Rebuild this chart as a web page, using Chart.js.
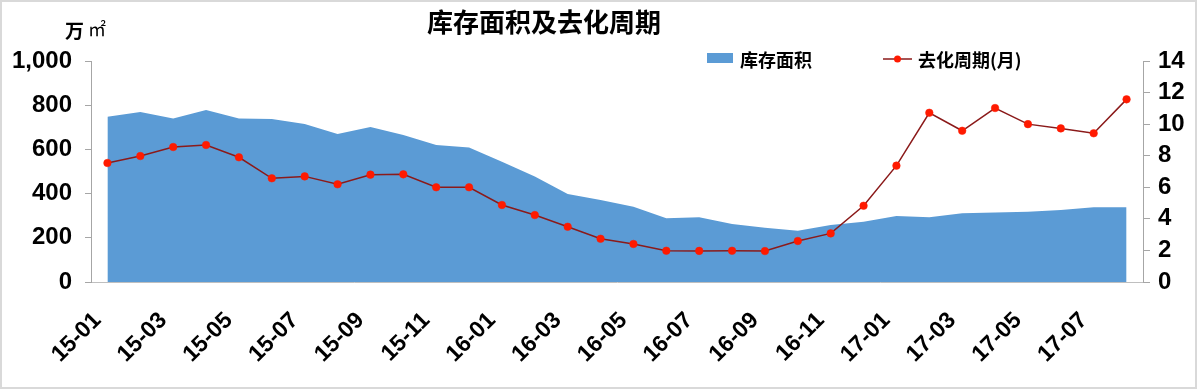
<!DOCTYPE html>
<html>
<head>
<meta charset="utf-8">
<script src="https://cdn.jsdelivr.net/npm/chart.js@4/dist/chart.umd.min.js"></script>
<style>
html,body{margin:0;padding:0;background:#fff;}
#wrap{position:relative;width:1197px;height:389px;}
#frame{position:absolute;left:0;top:0;width:1197px;height:389px;box-sizing:border-box;border:2px solid #d9d9d9;pointer-events:none;}
</style>
</head>
<body>
<div id="wrap">
    <canvas id="stockChart" width="1197" height="389"></canvas>
    <div id="frame"></div>
</div>
<script>
const chartTitle = "库存面积及去化周期";
const unitLabel = "万";
const unitSup = "㎡";
const seriesNames = ["库存面积", "去化周期(月)"];
const months = [
    "15-01","15-02","15-03","15-04","15-05","15-06","15-07","15-08","15-09","15-10","15-11","15-12",
    "16-01","16-02","16-03","16-04","16-05","16-06","16-07","16-08","16-09","16-10","16-11","16-12",
    "17-01","17-02","17-03","17-04","17-05","17-06","17-07","17-08"
];
// 库存面积 (万㎡)
const inventory = [
    748, 769, 740, 778, 740, 737, 715, 670, 701, 665, 620, 609,
    544, 477, 398, 371, 341, 288, 293, 262, 246, 232, 258, 273,
    299, 293, 311, 315, 318, 326, 338, 338
];
// 去化周期 (月)
const cycle = [
    7.54, 7.98, 8.55, 8.68, 7.9, 6.57, 6.69, 6.19, 6.8, 6.82, 6.0, 6.0,
    4.88, 4.24, 3.5, 2.74, 2.41, 1.98, 1.97, 1.98, 1.96, 2.6, 3.08, 4.83,
    7.37, 10.72, 9.58, 11.02, 10.0, 9.73, 9.42, 11.57
];

const areaColor = "#5B9BD5";
const lineColor = "#8b1a1a";
const dotColor = "#ff1a00";
const axisColor = "#a6a6a6";
const numFont = "Liberation Sans";
const cjkFont = "Noto Sans CJK SC";

// title, unit and legend drawn on top
const overlayText = {
    id: "overlayText",
    afterDraw(chart){
        const ctx = chart.ctx;
        ctx.save();
        ctx.fillStyle = "#000";
        ctx.textBaseline = "middle";
        ctx.textAlign = "center";
        ctx.font = `bold 26px "${cjkFont}"`;
        ctx.fillText(chartTitle, 544, 22);
        ctx.textAlign = "left";
        ctx.font = `bold 19px "${cjkFont}"`;
        ctx.fillText(unitLabel, 65, 31);
        ctx.font = `18px "${cjkFont}"`;
        ctx.fillText(unitSup, 88, 29);
        // legend
        ctx.fillStyle = areaColor;
        ctx.fillRect(707, 53, 26, 10);
        ctx.fillStyle = "#000";
        ctx.font = `bold 18px "${cjkFont}"`;
        ctx.fillText(seriesNames[0], 740, 60);
        ctx.strokeStyle = lineColor;
        ctx.lineWidth = 1.5;
        ctx.beginPath();
        ctx.moveTo(883, 59);
        ctx.lineTo(912, 59);
        ctx.stroke();
        ctx.fillStyle = dotColor;
        ctx.beginPath();
        ctx.arc(897.5, 59, 3.5, 0, Math.PI * 2);
        ctx.fill();
        ctx.fillStyle = "#000";
        ctx.fillText(seriesNames[1], 918, 60);
        ctx.restore();
    }
};

const ctx = document.getElementById("stockChart");
const stockChart = new Chart(ctx, {
    type: "line",
    data: {
        labels: months,
        datasets: [
            {
                label: seriesNames[0],
                data: inventory,
                yAxisID: "y",
                fill: "origin",
                backgroundColor: areaColor,
                borderWidth: 0,
                pointRadius: 0,
                tension: 0,
                order: 2
            },
            {
                label: seriesNames[1],
                data: cycle,
                yAxisID: "y1",
                fill: false,
                borderColor: lineColor,
                borderWidth: 1.5,
                pointRadius: 3.8,
                pointBackgroundColor: dotColor,
                pointBorderColor: dotColor,
                pointBorderWidth: 0.5,
                tension: 0,
                order: 1
            }
        ]
    },
    options: {
        responsive: false,
        animation: false,
        layout: {padding: {top: 61, left: 0, right: 0, bottom: 0}},
        plugins: {
            legend: {display: false},
            title: {display: false},
            tooltip: {enabled: false}
        },
        scales: {
            x: {
                offset: true,
                grid: {display: false},
                border: {display: true, color: "#bfbfbf"},
                ticks: {
                    autoSkip: false,
                    maxRotation: 45,
                    minRotation: 45,
                    padding: 17,
                    labelOffset: -10,
                    color: "#000",
                    font: {family: numFont, weight: "bold", size: 23},
                    callback(value, index){
                        return index % 2 === 0 ? this.getLabelForValue(value) : "";
                    }
                },
                afterFit(scale){ scale.height = 107; }
            },
            y: {
                position: "left",
                min: 0,
                max: 1000,
                grid: {drawOnChartArea: false, tickLength: 6, color: axisColor},
                border: {color: axisColor},
                ticks: {
                    stepSize: 200,
                    autoSkip: false,
                    padding: 13,
                    color: "#000",
                    font: {family: numFont, weight: "bold", size: 24}
                },
                afterFit(scale){ scale.width = 91; }
            },
            y1: {
                position: "right",
                min: 0,
                max: 14,
                grid: {drawOnChartArea: false, tickLength: 7, color: axisColor},
                border: {color: axisColor},
                ticks: {
                    stepSize: 2,
                    autoSkip: false,
                    padding: 8,
                    color: "#000",
                    font: {family: numFont, weight: "bold", size: 24}
                },
                afterFit(scale){ scale.width = 54; }
            }
        }
    },
    plugins: [overlayText]
});
</script>
</body>
</html>
